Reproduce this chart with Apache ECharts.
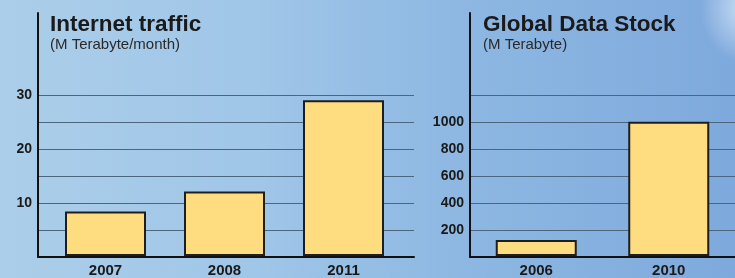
<!DOCTYPE html>
<html>
<head>
<meta charset="utf-8">
<script src="https://cdn.jsdelivr.net/npm/echarts@6/dist/echarts.min.js"></script>
<style>
html,body{margin:0;padding:0;}
#c{width:735px;height:278px;background:
 radial-gradient(ellipse 45px 55px at 745px 8px, rgba(228,240,253,0.75), rgba(228,240,253,0) 100%),
 linear-gradient(90deg,#abcee9 0%,#a0c6e8 35%,#8fb9e3 60%,#7ea9dc 100%);}
</style>
</head>
<body>
<div id="c"></div>
<script>
// Data
const trafficYears = ['2007', '2008', '2011'];
const trafficValues = [8.3, 12, 29];
const trafficTickLabels = [10, 20, 30];
const stockYears = ['2006', '2010'];
const stockValues = [120, 1000];
const stockTickLabels = [200, 400, 600, 800, 1000];

const FONT = 'Liberation Sans, Arial, sans-serif';
const chart = echarts.init(document.getElementById('c'), null, {renderer: 'canvas'});

const axisDark = {show: true, onZero: false, lineStyle: {color: '#111', width: 2}};
const gridLine = {show: true, lineStyle: {color: '#4d6680', width: 1}};

function frameAxes(gi) {
  return {
    x: {type: 'value', gridIndex: gi, min: 0, max: 1, axisLine: axisDark, axisTick: {show: false},
        axisLabel: {show: false}, splitLine: {show: false}},
    y: {type: 'value', gridIndex: gi, min: 0, max: 1, axisLine: axisDark, axisTick: {show: false},
        axisLabel: {show: false}, splitLine: {show: false}}
  };
}

const f0 = frameAxes(0), f3 = frameAxes(3);
const titleStyle = {fontFamily: FONT, fontSize: 22.5, fontWeight: 'bold', color: '#1a1a1a'};
const subStyle = {fontFamily: FONT, fontSize: 15, color: '#2a2a2a'};

const option = {
  backgroundColor: 'transparent',
  animation: false,
  textStyle: {fontFamily: FONT},
  title: [
    {text: 'Internet traffic', subtext: '(M Terabyte/month)', left: 50, top: 13, padding: 0, itemGap: 1,
     textStyle: titleStyle, subtextStyle: subStyle},
    {text: 'Global Data Stock', subtext: '(M Terabyte)', left: 483, top: 13, padding: 0, itemGap: 1,
     textStyle: titleStyle, subtextStyle: subStyle}
  ],
  grid: [
    {left: 38, top: 13, width: 376, height: 244},
    {left: 38, top: 95, width: 376, height: 162},
    {left: 46, top: 95, width: 357, height: 162},
    {left: 470, top: 13, width: 300, height: 244},
    {left: 470, top: 95, width: 300, height: 162},
    {left: 470, top: 95, width: 270, height: 162}
  ],
  xAxis: [
    f0.x,
    {type: 'value', gridIndex: 1, show: false},
    {type: 'category', gridIndex: 2, data: trafficYears, axisLine: {show: false}, axisTick: {show: false},
     axisLabel: {fontFamily: FONT, fontSize: 15, fontWeight: 'bold', color: '#1a1a1a', margin: 7}},
    f3.x,
    {type: 'value', gridIndex: 4, show: false},
    {type: 'category', gridIndex: 5, data: stockYears, axisLine: {show: false}, axisTick: {show: false},
     axisLabel: {fontFamily: FONT, fontSize: 15, fontWeight: 'bold', color: '#1a1a1a', margin: 7}}
  ],
  yAxis: [
    f0.y,
    {type: 'value', gridIndex: 1, min: 0, max: 30, interval: 5, axisLine: {show: false}, axisTick: {show: false},
     splitLine: gridLine,
     axisLabel: {fontFamily: FONT, fontSize: 14, fontWeight: 'bold', color: '#1a1a1a', margin: 6,
       formatter: v => trafficTickLabels.includes(v) ? String(v) : ''}},
    {type: 'value', gridIndex: 2, min: 0, max: 30, show: false, splitLine: {show: false}},
    f3.y,
    {type: 'value', gridIndex: 4, min: 0, max: 1200, interval: 200, axisLine: {show: false}, axisTick: {show: false},
     splitLine: gridLine,
     axisLabel: {fontFamily: FONT, fontSize: 14, fontWeight: 'bold', color: '#1a1a1a', margin: 6,
       formatter: v => stockTickLabels.includes(v) ? String(v) : ''}},
    {type: 'value', gridIndex: 5, min: 0, max: 1200, show: false, splitLine: {show: false}}
  ],
  series: [
    {type: 'bar', xAxisIndex: 2, yAxisIndex: 2, data: trafficValues, barWidth: 81,
     itemStyle: {color: '#fedd80', borderColor: '#1e1e1e', borderWidth: 2}, z: 5},
    {type: 'bar', xAxisIndex: 5, yAxisIndex: 5, data: stockValues, barWidth: 81,
     itemStyle: {color: '#fedd80', borderColor: '#1e1e1e', borderWidth: 2}, z: 5}
  ]
};
chart.setOption(option);
</script>
</body>
</html>
